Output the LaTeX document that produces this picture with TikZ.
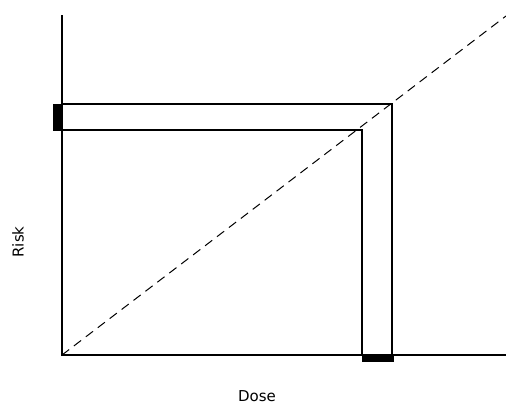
\documentclass[tikz,border=0pt]{standalone}
\usepackage{fontspec}
\setmainfont{DejaVu Sans}
\begin{document}
\begin{tikzpicture}[x=1pt,y=-1pt,
  axis/.style={line width=1.4pt},
  band/.style={line width=1.3pt},
  diag/.style={line width=1pt, dash pattern=on 9pt off 6pt},
  lbl/.style={font=\fontsize{15}{18}\selectfont}]
\useasboundingbox (0,0) rectangle (506,408);
\coordinate (top) at (62,15);
\coordinate (o) at (62,355);
\coordinate (xe) at (506,355);
\coordinate (de) at (506,16);
\coordinate (oc) at (392,104);
\coordinate (ic) at (362,130);
\coordinate (ot) at (62,104);
\coordinate (it) at (62,130);
\coordinate (ob) at (392,355);
\coordinate (ib) at (362,355);
% black markers
\fill (53,104) rectangle (62,131);
\fill (362,355) rectangle (394,362);
% axes
\draw[axis] (top) -- (o) -- (xe);
% band
\draw[band] (ot) -- (oc) -- (ob);
\draw[band] (it) -- (ic) -- (ib);
% diagonal
\draw[diag] (o) -- (de);
\node[lbl, rotate=90] (risk) at (18,242) {Risk};
\node[lbl] (dose) at (257,396) {Dose};
\end{tikzpicture}
\end{document}
